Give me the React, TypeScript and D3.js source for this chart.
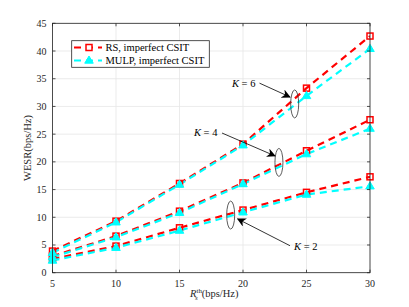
import React from 'react';
import * as d3 from 'd3';

// x positions (R_s^th, bps/Hz)
const rates = [5, 10, 15, 20, 25, 30];

// WESR values
const rsK6 = [3.9, 9.3, 16.1, 23.2, 33.3, 42.7];
const mulpK6 = [3.6, 9.1, 15.9, 23.0, 31.9, 40.4];
const rsK4 = [3.0, 6.6, 11.1, 16.2, 22.0, 27.6];
const mulpK4 = [2.8, 6.4, 10.8, 16.0, 21.4, 26.0];
const rsK2 = [2.5, 4.8, 8.1, 11.3, 14.5, 17.3];
const mulpK2 = [2.2, 4.5, 7.6, 10.9, 14.1, 15.6];

const xTicks = [5, 10, 15, 20, 25, 30];
const yTicks = [0, 5, 10, 15, 20, 25, 30, 35, 40, 45];

const legendLabels = ['RS, imperfect CSIT', 'MULP, imperfect CSIT'];

const W = 409, H = 307;
const margin = { top: 23.3, right: 39, bottom: 34.3, left: 52.5 };
const font = '"Liberation Serif", "DejaVu Serif", serif';

export default function App() {
  const x = d3.scaleLinear().domain([5, 30]).range([margin.left, W - margin.right]);
  const y = d3.scaleLinear().domain([0, 45]).range([H - margin.bottom, margin.top]);
  const line = d3.line<number>().x((d, i) => x(rates[i])).y(d => y(d));

  const rsSeries = [rsK6, rsK4, rsK2];
  const mulpSeries = [mulpK6, mulpK4, mulpK2];

  const x0 = x.range()[0], x1 = x.range()[1];
  const y0 = y.range()[0], y1 = y.range()[1];

  const tri = (cx: number, cy: number, s: number) =>
    `M${cx},${cy - s}L${cx + s * 0.95},${cy + s * 0.6}L${cx - s * 0.95},${cy + s * 0.6}Z`;

  // annotations (data units): ellipse centre, text start, arrow start / end
  const notes = [
    { label: '6', ex: 24.07, ey: 30.45, tx: 19.13, ty: 34.2, sx: 21.3, sy: 34.2, ax: 23.7, ay: 31.7 },
    { label: '4', ex: 22.83, ey: 19.9, tx: 16.14, ty: 25.27, sx: 18.35, sy: 25.2, ax: 22.52, ay: 21.07 },
    { label: '2', ex: 19.03, ey: 10.4, tx: 24.02, ty: 4.8, sx: 23.7, sy: 4.87, ax: 19.58, ay: 9.7 },
  ];

  return (
    <svg width={W} height={H} style={{ position: 'absolute', left: 0, top: 0, background: '#fff' }}>
      <defs>
        <marker id="arr" viewBox="0 0 10 10" refX="9" refY="5" markerWidth="9" markerHeight="9" orient="auto-start-reverse" markerUnits="userSpaceOnUse">
          <path d="M0,0L10,5L0,10L3,5Z" fill="#000" />
        </marker>
        <clipPath id="clip">
          <rect x={x0} y={y1} width={x1 - x0} height={y0 - y1} />
        </clipPath>
      </defs>
      {/* grid */}
      {xTicks.map(t => (
        <line key={'gx' + t} x1={x(t)} x2={x(t)} y1={y0} y2={y1} stroke="#e6e6e6" strokeWidth={0.8} />
      ))}
      {yTicks.map(t => (
        <line key={'gy' + t} x1={x0} x2={x1} y1={y(t)} y2={y(t)} stroke="#e6e6e6" strokeWidth={0.8} />
      ))}
      {/* series */}
      <g clipPath="url(#clip)">
        {rsSeries.map((s, k) => (
          <path key={'rs' + k} d={line(s) || ''} fill="none" stroke="#ff0000" strokeWidth={2.2} strokeDasharray="7,5" />
        ))}
        {mulpSeries.map((s, k) => (
          <path key={'mu' + k} d={line(s) || ''} fill="none" stroke="#00ffff" strokeWidth={2.2} strokeDasharray="7,5" />
        ))}
      </g>
      {rsSeries.map((s, k) =>
        s.map((v, i) => (
          <rect key={'rm' + k + i} x={x(rates[i]) - 3} y={y(v) - 3} width={6} height={6} fill="none" stroke="#ff0000" strokeWidth={1.5} />
        ))
      )}
      {mulpSeries.map((s, k) =>
        s.map((v, i) => (
          <path key={'mm' + k + i} d={tri(x(rates[i]), y(v), 4.5)} fill="#00ffff" stroke="#00ffff" strokeWidth={1} />
        ))
      )}
      {/* axes box */}
      <rect x={x0} y={y1} width={x1 - x0} height={y0 - y1} fill="none" stroke="#262626" strokeWidth={0.8} />
      {xTicks.map(t => (
        <g key={'tx' + t}>
          <line x1={x(t)} x2={x(t)} y1={y0} y2={y0 - 3} stroke="#262626" strokeWidth={0.8} />
          <line x1={x(t)} x2={x(t)} y1={y1} y2={y1 + 3} stroke="#262626" strokeWidth={0.8} />
          <text x={x(t)} y={y0 + 14} textAnchor="middle" fontFamily={font} fontSize={10} fill="#262626">{t}</text>
        </g>
      ))}
      {yTicks.map(t => (
        <g key={'ty' + t}>
          <line x1={x0} x2={x0 + 3} y1={y(t)} y2={y(t)} stroke="#262626" strokeWidth={0.8} />
          <line x1={x1} x2={x1 - 3} y1={y(t)} y2={y(t)} stroke="#262626" strokeWidth={0.8} />
          <text x={x0 - 6} y={y(t) + 3.5} textAnchor="end" fontFamily={font} fontSize={10} fill="#262626">{t}</text>
        </g>
      ))}
      {/* axis labels */}
      <text x={(x0 + x1) / 2 + 3} y={H - 10} textAnchor="middle" fontFamily={font} fontSize={10.5} fill="#262626">
        <tspan fontStyle="italic">R</tspan>
        <tspan fontSize={7} dy={-4}>th</tspan>
        <tspan fontSize={7} fontStyle="italic" dx={-7} dy={7}>s</tspan>
        <tspan dy={-3} dx={4}>(bps/Hz)</tspan>
      </text>
      <text transform={`translate(${31},${(y0 + y1) / 2}) rotate(-90)`} textAnchor="middle" fontFamily={font} fontSize={10.5} fill="#262626">
        WESR(bps/Hz)
      </text>
      {/* annotations */}
      {notes.map(n => (
        <g key={'n' + n.label}>
          <ellipse cx={x(n.ex)} cy={y(n.ey)} rx={4} ry={14} fill="none" stroke="#333" strokeWidth={0.8} />
          <line x1={x(n.sx)} y1={y(n.sy)} x2={x(n.ax)} y2={y(n.ay)} stroke="#000" strokeWidth={0.8} markerEnd="url(#arr)" />
          <text x={x(n.tx)} y={y(n.ty) + 3.5} fontFamily={font} fontSize={10.5} fill="#000">
            <tspan fontStyle="italic">K</tspan> = {n.label}
          </text>
        </g>
      ))}
      {/* legend */}
      <rect x={71.7} y={40.7} width={137.6} height={26.6} fill="#fff" stroke="#262626" strokeWidth={0.8} />
      {legendLabels.map((lab, i) => {
        const ly = 47.5 + i * 13;
        const c = i === 0 ? '#ff0000' : '#00ffff';
        return (
          <g key={lab}>
            <line x1={74} x2={102} y1={ly} y2={ly} stroke={c} strokeWidth={2.2} strokeDasharray="7,5" />
            {i === 0 ? (
              <rect x={86} y={ly - 3} width={6} height={6} fill="#fff" stroke={c} strokeWidth={1.5} />
            ) : (
              <path d={tri(89, ly, 4.5)} fill={c} stroke={c} />
            )}
            <text x={105.5} y={ly + 3.5} fontFamily={font} fontSize={10.5} fill="#000">{lab}</text>
          </g>
        );
      })}
    </svg>
  );
}
